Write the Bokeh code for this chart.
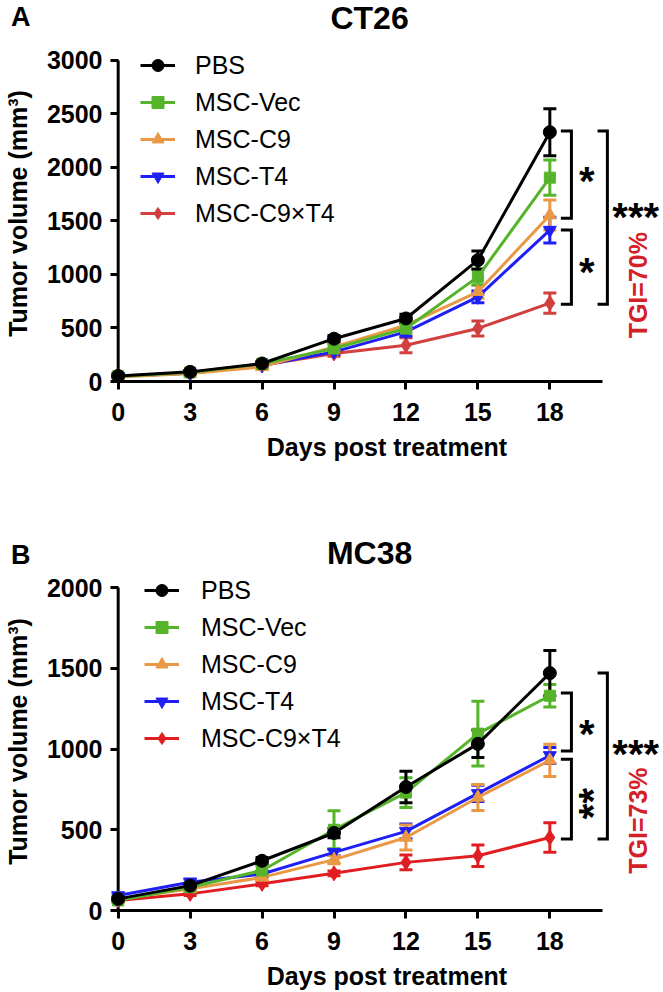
from bokeh.plotting import figure
from bokeh.models import (Range1d, Whisker, TeeHead, ColumnDataSource, Legend,
                          LegendItem, Label, FixedTicker)
from bokeh.core.properties import value
from bokeh.layouts import column
from bokeh.embed import file_html
from bokeh.resources import INLINE

FONT = "Liberation Sans"

days = [0, 3, 6, 9, 12, 15, 18]
groups = ["PBS", "MSC-Vec", "MSC-C9", "MSC-T4", "MSC-C9×T4"]

# ---- Panel A: CT26 (mean, SEM) ----
ct26_pbs = [52, 90, 168, 400, 589, 1134, 2330]
ct26_pbs_sem = [8, 12, 20, 30, 40, 85, 220]
ct26_vec = [50, 85, 165, 308, 495, 978, 1905]
ct26_vec_sem = [8, 12, 20, 30, 45, 75, 165]
ct26_c9 = [42, 75, 137, 324, 526, 838, 1555]
ct26_c9_sem = [6, 10, 18, 30, 40, 60, 140]
ct26_t4 = [48, 78, 150, 277, 464, 791, 1415]
ct26_t4_sem = [6, 10, 18, 25, 40, 55, 120]
ct26_c9t4 = [48, 78, 152, 262, 339, 496, 732]
ct26_c9t4_sem = [6, 10, 18, 25, 70, 70, 95]
ct26_yticks = [0, 500, 1000, 1500, 2000, 2500, 3000]
ct26_inner_brackets = [(2340, 1525), (1415, 723)]
ct26_inner_marks = ["*", "*"]
ct26_outer_bracket = (2340, 723)
ct26_outer_mark = "***"
ct26_tgi = "TGI=70%"

# ---- Panel B: MC38 (mean, SEM) ----
mc38_pbs = [72, 154, 308, 480, 765, 1032, 1470]
mc38_pbs_sem = [10, 15, 20, 30, 98, 85, 140]
mc38_vec = [62, 144, 248, 500, 730, 1095, 1330]
mc38_vec_sem = [10, 15, 25, 118, 92, 200, 70]
mc38_c9 = [70, 134, 205, 315, 452, 700, 930]
mc38_c9_sem = [8, 12, 15, 25, 77, 80, 100]
mc38_t4 = [93, 175, 226, 360, 490, 725, 960]
mc38_t4_sem = [10, 20, 15, 20, 45, 50, 50]
mc38_c9t4 = [62, 103, 165, 230, 298, 339, 452]
mc38_c9t4_sem = [8, 10, 12, 15, 45, 66, 92]
mc38_yticks = [0, 500, 1000, 1500, 2000]
mc38_inner_brackets = [(1347, 987), (936, 442)]
mc38_inner_marks = ["*", "**"]
mc38_outer_bracket = (1470, 442)
mc38_outer_mark = "***"
mc38_tgi = "TGI=73%"

markers = ["circle", "square", "triangle", "inverted_triangle", "diamond"]
msizes = [13, 11, 13, 13, 15]


def make_header(letter, title, height, top, bottom, title_y):
    frame_h = height - top - bottom
    h = figure(width=663, height=height, x_range=Range1d(108, 663),
               y_range=Range1d(frame_h, 0), output_backend="svg", toolbar_location=None,
               x_axis_location=None, min_border_left=108, min_border_right=0,
               min_border_top=top, min_border_bottom=bottom, title=None)
    h.outline_line_color = None
    h.grid.visible = False
    ya = h.yaxis[0]
    ya.ticker = FixedTicker(ticks=[])
    ya.axis_line_color = None
    ya.major_tick_line_color = None
    ya.minor_tick_line_color = None
    ya.major_label_text_font_size = "0px"
    ya.axis_label = letter
    ya.axis_label_orientation = "horizontal"
    ya.axis_label_text_font = FONT
    ya.axis_label_text_font_size = "27px"
    ya.axis_label_text_font_style = "bold"
    ya.axis_label_text_color = "black"
    ya.axis_label_standoff = 80
    h.text(x=[368], y=[title_y], text=[title], text_font=value(FONT),
           text_font_size="32px", text_font_style="bold", text_color="black",
           text_align="center", text_baseline="middle")
    return h


def make_panel(series, sems, colors, yticks, ytop, inner, inner_marks,
               outer, outer_mark, tgi, height, top, bottom, leg_xy, leg_standoff,
               mark_pos, outer_pos, tgi_pos):
    p = figure(width=663, height=height, x_range=Range1d(-0.32, 22.74),
               y_range=Range1d(0, ytop), output_backend="svg", toolbar_location=None,
               min_border_left=108, min_border_right=0, min_border_top=top,
               min_border_bottom=bottom, title=None)
    p.outline_line_color = None
    p.grid.visible = False
    p.background_fill_color = "white"

    xa = p.xaxis[0]
    xa.ticker = FixedTicker(ticks=days)
    xa.bounds = (0, 20.2)
    xa.axis_line_width = 3
    xa.axis_line_color = "black"
    xa.major_tick_line_width = 3
    xa.major_tick_line_color = "black"
    xa.major_tick_out = 8
    xa.major_tick_in = 0
    xa.minor_tick_line_color = None
    xa.major_label_text_font = FONT
    xa.major_label_text_font_size = "25px"
    xa.major_label_text_font_style = "bold"
    xa.major_label_text_color = "black"
    xa.major_label_standoff = 13
    xa.axis_label = "Days post treatment"
    xa.axis_label_text_font = FONT
    xa.axis_label_text_font_size = "25px"
    xa.axis_label_text_font_style = "bold"
    xa.axis_label_text_color = "black"
    xa.axis_label_standoff = 9

    ya = p.yaxis[0]
    ya.ticker = FixedTicker(ticks=yticks)
    ya.axis_line_color = None
    ya.major_tick_line_width = 3
    ya.major_tick_line_color = "black"
    ya.major_tick_out = 0
    ya.major_tick_in = 8
    ya.minor_tick_line_color = None
    ya.major_label_text_font = FONT
    ya.major_label_text_font_size = "25px"
    ya.major_label_text_font_style = "bold"
    ya.major_label_text_color = "black"
    ya.major_label_standoff = 8
    ya.axis_label = "Tumor volume (mm³)"
    ya.axis_label_text_font = FONT
    ya.axis_label_text_font_size = "25px"
    ya.axis_label_text_font_style = "bold"
    ya.axis_label_text_color = "black"
    ya.axis_label_standoff = 12

    # y axis line drawn at day 0, from 0 to the top tick
    p.segment(x0=[0], y0=[0], x1=[0], y1=[yticks[-1]], line_color="black", line_width=3)

    items = {}
    for i in reversed(range(len(series))):
        c = colors[i]
        vals = series[i]
        err = sems[i]
        src = ColumnDataSource(dict(x=days, y=vals,
                                    upper=[v + e for v, e in zip(vals, err)],
                                    lower=[v - e for v, e in zip(vals, err)]))
        w = Whisker(base="x", upper="upper", lower="lower", source=src,
                    line_color=c, line_width=3,
                    upper_head=TeeHead(size=13, line_color=c, line_width=3),
                    lower_head=TeeHead(size=13, line_color=c, line_width=3))
        p.add_layout(w)
        lr = p.line("x", "y", source=src, line_color=c, line_width=3)
        sr = p.scatter("x", "y", source=src, marker=markers[i], size=msizes[i],
                       fill_color=c, line_color=c)
        items[i] = LegendItem(label=groups[i], renderers=[lr, sr])

    legend = Legend(items=[items[i] for i in range(len(series))], location=leg_xy,
                    border_line_color=None, background_fill_alpha=0,
                    label_text_font=FONT, label_text_font_size="25px",
                    label_text_color="black",
                    glyph_width=35, glyph_height=30, label_height=30,
                    label_standoff=leg_standoff, spacing=7, padding=0, margin=0)
    p.add_layout(legend)

    # significance brackets
    arm0, armv = 18.46, 18.9
    oarm0, oarmv = 19.99, 20.4
    for (t, b) in inner:
        p.line([arm0, armv, armv, arm0], [t, t, b, b], line_color="black",
               line_width=3, line_join="miter")
    t, b = outer
    p.line([oarm0, oarmv, oarmv, oarm0], [t, t, b, b], line_color="black",
           line_width=3, line_join="miter")

    for mark, (mx, my, rot) in zip(inner_marks, mark_pos):
        p.add_layout(Label(x=mx, y=my, text=mark, angle=1.5708 if rot else 0,
                           text_font=FONT, text_font_size="40px", text_color="black",
                           text_font_style="bold", text_align="center",
                           text_baseline="alphabetic"))
    p.add_layout(Label(x=outer_pos[0], y=outer_pos[1], text=outer_mark,
                       text_font=FONT, text_font_size="40px", text_font_style="bold",
                       text_color="black", text_align="center", text_baseline="alphabetic"))
    p.add_layout(Label(x=tgi_pos[0], y=tgi_pos[1], text=tgi, angle=1.5708,
                       text_font=FONT, text_font_size="25px", text_font_style="bold",
                       text_color="#D42027", text_align="center", text_baseline="middle"))
    return p


colors_a = ["#000000", "#56B42A", "#E99845", "#1F1FF5", "#D23F3F"]
colors_b = ["#000000", "#56B42A", "#E99845", "#1F1FF5", "#E01E22"]

ha = make_header("A", "CT26", height=45, top=0, bottom=13, title_y=17)

pa = make_panel([ct26_pbs, ct26_vec, ct26_c9, ct26_t4, ct26_c9t4],
                [ct26_pbs_sem, ct26_vec_sem, ct26_c9_sem, ct26_t4_sem, ct26_c9t4_sem],
                colors_a, ct26_yticks, 3140, ct26_inner_brackets, ct26_inner_marks,
                ct26_outer_bracket, ct26_outer_mark, ct26_tgi,
                height=455, top=0, bottom=119, leg_xy=(30, 153), leg_standoff=20,
                mark_pos=[(19.54, 1873, False), (19.54, 1022, False)],
                outer_pos=(21.58, 1536), tgi_pos=(21.66, 900))

hb = make_header("B", "MC38", height=72, top=36, bottom=0, title_y=16.5)

pb = make_panel([mc38_pbs, mc38_vec, mc38_c9, mc38_t4, mc38_c9t4],
                [mc38_pbs_sem, mc38_vec_sem, mc38_c9_sem, mc38_t4_sem, mc38_c9t4_sem],
                colors_b, mc38_yticks, 2093, mc38_inner_brackets, mc38_inner_marks,
                mc38_outer_bracket, mc38_outer_mark, mc38_tgi,
                height=420, top=0, bottom=82, leg_xy=(34, 157), leg_standoff=22,
                mark_pos=[(19.54, 1096, False), (19.79, 662, True)],
                outer_pos=(21.58, 972), tgi_pos=(21.66, 557))

layout = column(ha, pa, hb, pb, spacing=0)
open("out.html", "w").write(file_html(layout, INLINE))
